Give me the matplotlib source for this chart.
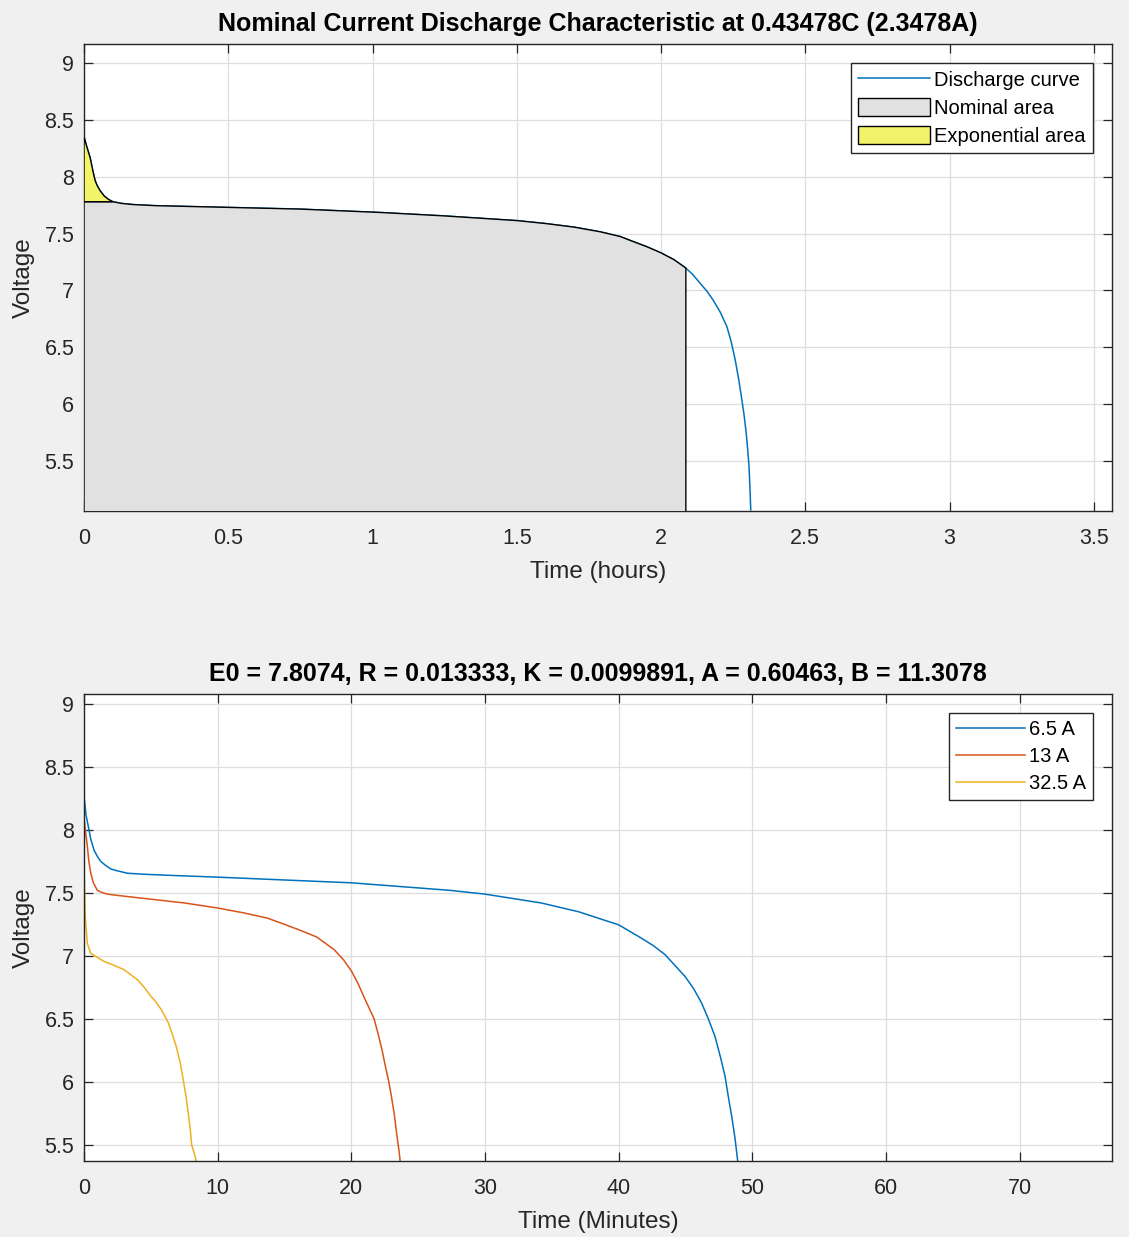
import numpy as np
import matplotlib.pyplot as plt

plt.rcParams['font.family'] = ['Liberation Sans', 'DejaVu Sans']

# top plot: nominal discharge curve (hours, volts)
t_hours = [0, 0.01, 0.021, 0.03, 0.038, 0.045, 0.055, 0.07, 0.085, 0.1, 0.13, 0.17,
           0.25, 0.5, 0.75, 1.03, 1.25, 1.5, 1.6, 1.7, 1.79, 1.858, 1.903, 1.95,
           2.0, 2.045, 2.086, 2.11, 2.135, 2.16, 2.18, 2.205, 2.228, 2.243, 2.257,
           2.269, 2.28, 2.288, 2.295, 2.3, 2.305, 2.308, 2.311]
v_disch = [8.35, 8.26, 8.17, 8.06, 7.97, 7.925, 7.88, 7.83, 7.80, 7.78, 7.765, 7.755,
           7.745, 7.73, 7.715, 7.685, 7.655, 7.614, 7.588, 7.556, 7.515, 7.474, 7.43,
           7.385, 7.33, 7.27, 7.196, 7.14, 7.064, 6.99, 6.917, 6.81, 6.683, 6.55,
           6.39, 6.22, 6.04, 5.9, 5.75, 5.61, 5.45, 5.27, 5.07]
t_exp = 0.1       # end of exponential zone
v_exp = 7.78
t_nom = 2.086     # end of nominal zone

# bottom plot: curves at different currents (minutes, volts)
t_65 = [0, 0.15, 0.375, 0.5, 0.75, 1.0, 1.25, 1.6, 2.0, 2.5, 3.25, 4.5, 6.25, 10,
        20, 27.4, 30, 34.2, 37, 40, 41.7, 42.6, 43.46, 44.96, 45.6, 46.2, 46.7,
        47.2, 47.6, 47.96, 48.2, 48.46, 48.7, 48.9]
v_65 = [8.27, 8.12, 8.0, 7.93, 7.84, 7.79, 7.75, 7.72, 7.69, 7.675, 7.656, 7.648,
        7.64, 7.625, 7.58, 7.52, 7.49, 7.42, 7.35, 7.246, 7.14, 7.08, 7.01, 6.836,
        6.74, 6.625, 6.5, 6.36, 6.2, 6.04, 5.88, 5.72, 5.55, 5.37]
t_13 = [0, 0.1, 0.25, 0.35, 0.5, 0.7, 1.0, 1.3, 1.75, 2.5, 5, 7.5, 10, 12, 13.7,
        15, 16, 17.4, 18.7, 19.4, 20.0, 20.5, 21.0, 21.35, 21.7, 22.0, 22.3,
        22.55, 22.8, 23.0, 23.2, 23.35, 23.5, 23.58, 23.65]
v_13 = [8.105, 8.0, 7.87, 7.76, 7.66, 7.58, 7.52, 7.505, 7.49, 7.48, 7.45, 7.42,
        7.38, 7.34, 7.30, 7.25, 7.21, 7.15, 7.05, 6.97, 6.88, 6.78, 6.66, 6.58,
        6.5, 6.38, 6.25, 6.12, 6.0, 5.88, 5.75, 5.62, 5.5, 5.44, 5.37]
t_325 = [0, 0.1, 0.25, 0.5, 1.5, 2.0, 3.0, 4.0, 4.5, 5.0, 5.4, 5.8, 6.3, 6.6, 6.9,
         7.2, 7.45, 7.65, 7.8, 7.95, 8.05, 8.25, 8.4]
v_325 = [7.7, 7.3, 7.1, 7.02, 6.955, 6.935, 6.89, 6.81, 6.75, 6.68, 6.63, 6.57,
         6.47, 6.38, 6.28, 6.15, 6.0, 5.87, 5.75, 5.62, 5.5, 5.43, 5.37]
currents = ['6.5 A', '13 A', '32.5 A']

title_top = 'Nominal Current Discharge Characteristic at 0.43478C (2.3478A)'
title_bot = 'E0 = 7.8074, R = 0.013333, K = 0.0099891, A = 0.60463, B = 11.3078'

c_blue = '#0072BD'
c_red = '#D95319'
c_yel = '#EDB120'
dark = '#262626'

fig = plt.figure(figsize=(11.29, 12.37), dpi=100, facecolor='#f0f0f0')
ax1 = fig.add_axes([84/1129, 1 - 511/1237, 1028/1129, 467/1237])
ax2 = fig.add_axes([84/1129, 1 - 1161/1237, 1028/1129, 467/1237])


def style(ax):
    ax.set_facecolor('white')
    ax.grid(True, color='#dedede', linewidth=0.9)
    ax.set_axisbelow(True)
    for s in ax.spines.values():
        s.set_color(dark)
        s.set_linewidth(1.0)
    ax.tick_params(direction='in', length=6.5, width=0.9, color=dark,
                   labelcolor=dark, labelsize=15.5, top=True, right=True)
    ax.tick_params(axis='x', pad=12)
    ax.tick_params(axis='y', pad=7)


# ---- top ----
t = np.array(t_hours)
v = np.array(v_disch)
ax1.plot(t, v, color=c_blue, linewidth=1.1, label='Discharge curve', zorder=2)

# nominal area polygon (below curve, up to end of nominal zone)
m = (t >= t_exp) & (t <= t_nom)
px = np.concatenate([[0, 0], t[m], [t_nom]])
py = np.concatenate([[0, v_exp], v[m], [0]])
ax1.fill(px, py, facecolor='#e1e1e1', edgecolor='black', linewidth=1.0,
         label='Nominal area', zorder=3)
# exponential area
m2 = t <= t_exp
ex = np.concatenate([t[m2], [t_exp, 0]])
ey = np.concatenate([v[m2], [v_exp, v_exp]])
ax1.fill(ex, ey, facecolor='#f3f36a', edgecolor='black', linewidth=1.0,
         label='Exponential area', zorder=3)

ax1.set_xlim(0, 3.563)
ax1.set_ylim(5.06, 9.167)
ax1.set_xticks([0, 0.5, 1, 1.5, 2, 2.5, 3, 3.5])
ax1.set_xticklabels(['0', '0.5', '1', '1.5', '2', '2.5', '3', '3.5'])
ax1.set_yticks([5.5, 6, 6.5, 7, 7.5, 8, 8.5, 9])
ax1.set_yticklabels(['5.5', '6', '6.5', '7', '7.5', '8', '8.5', '9'])
style(ax1)
ax1.set_xlabel('Time (hours)', fontsize=17.5, color=dark, labelpad=9)
ax1.set_ylabel('Voltage', fontsize=17.5, color=dark, labelpad=7)
ax1.set_title(title_top, fontsize=18, fontweight='bold', color='black', pad=9)
leg1 = ax1.legend(loc='upper right', fontsize=14.5, frameon=True, fancybox=False,
                  edgecolor=dark, framealpha=1, borderaxespad=0.95,
                  handlelength=3.6, handleheight=1.0, handletextpad=0.2,
                  labelspacing=0.4, borderpad=0.35)
leg1.get_frame().set_linewidth(1.0)

# ---- bottom ----
ax2.plot(t_65, v_65, color=c_blue, linewidth=1.1, label=currents[0])
ax2.plot(t_13, v_13, color=c_red, linewidth=1.1, label=currents[1])
ax2.plot(t_325, v_325, color=c_yel, linewidth=1.1, label=currents[2])
ax2.set_xlim(0, 76.9)
ax2.set_ylim(5.37, 9.08)
ax2.set_xticks(range(0, 80, 10))
ax2.set_yticks([5.5, 6, 6.5, 7, 7.5, 8, 8.5, 9])
ax2.set_yticklabels(['5.5', '6', '6.5', '7', '7.5', '8', '8.5', '9'])
style(ax2)
ax2.set_xlabel('Time (Minutes)', fontsize=17.5, color=dark, labelpad=9)
ax2.set_ylabel('Voltage', fontsize=17.5, color=dark, labelpad=7)
ax2.set_title(title_bot, fontsize=18, fontweight='bold', color='black', pad=9)
leg2 = ax2.legend(loc='upper right', fontsize=14.5, frameon=True, fancybox=False,
                  edgecolor=dark, framealpha=1, borderaxespad=0.95,
                  handlelength=3.4, handletextpad=0.2, labelspacing=0.4,
                  borderpad=0.35)
leg2.get_frame().set_linewidth(1.0)

fig.savefig('out.png', dpi=100, facecolor=fig.get_facecolor())
